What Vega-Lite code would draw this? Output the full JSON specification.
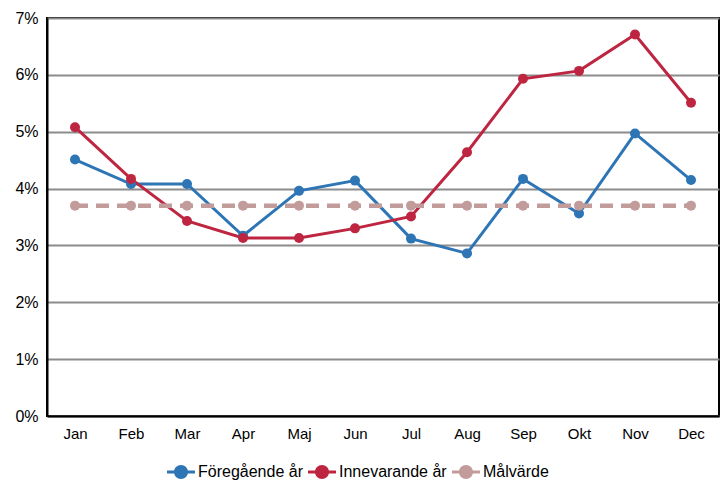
{
  "$schema": "https://vega.github.io/schema/vega-lite/v6.json",
  "width": 672,
  "height": 398,
  "autosize": {"type": "none"},
  "padding": {"left": 47, "top": 18, "right": 5, "bottom": 78},
  "background": "white",
  "config": {"font": "Liberation Sans", "view": {"stroke": "#000000", "strokeWidth": 2}},
  "data": {
    "values": [
      {"month": "Jan", "series": "Föregående år", "value": 4.51},
      {"month": "Feb", "series": "Föregående år", "value": 4.08},
      {"month": "Mar", "series": "Föregående år", "value": 4.08},
      {"month": "Apr", "series": "Föregående år", "value": 3.17},
      {"month": "Maj", "series": "Föregående år", "value": 3.96},
      {"month": "Jun", "series": "Föregående år", "value": 4.14},
      {"month": "Jul", "series": "Föregående år", "value": 3.12},
      {"month": "Aug", "series": "Föregående år", "value": 2.86},
      {"month": "Sep", "series": "Föregående år", "value": 4.17},
      {"month": "Okt", "series": "Föregående år", "value": 3.56},
      {"month": "Nov", "series": "Föregående år", "value": 4.97},
      {"month": "Dec", "series": "Föregående år", "value": 4.15},
      {"month": "Jan", "series": "Innevarande år", "value": 5.08},
      {"month": "Feb", "series": "Innevarande år", "value": 4.17},
      {"month": "Mar", "series": "Innevarande år", "value": 3.43},
      {"month": "Apr", "series": "Innevarande år", "value": 3.13},
      {"month": "Maj", "series": "Innevarande år", "value": 3.13},
      {"month": "Jun", "series": "Innevarande år", "value": 3.3},
      {"month": "Jul", "series": "Innevarande år", "value": 3.51},
      {"month": "Aug", "series": "Innevarande år", "value": 4.64},
      {"month": "Sep", "series": "Innevarande år", "value": 5.93},
      {"month": "Okt", "series": "Innevarande år", "value": 6.07},
      {"month": "Nov", "series": "Innevarande år", "value": 6.71},
      {"month": "Dec", "series": "Innevarande år", "value": 5.51},
      {"month": "Jan", "series": "Målvärde", "value": 3.7},
      {"month": "Feb", "series": "Målvärde", "value": 3.7},
      {"month": "Mar", "series": "Målvärde", "value": 3.7},
      {"month": "Apr", "series": "Målvärde", "value": 3.7},
      {"month": "Maj", "series": "Målvärde", "value": 3.7},
      {"month": "Jun", "series": "Målvärde", "value": 3.7},
      {"month": "Jul", "series": "Målvärde", "value": 3.7},
      {"month": "Aug", "series": "Målvärde", "value": 3.7},
      {"month": "Sep", "series": "Målvärde", "value": 3.7},
      {"month": "Okt", "series": "Målvärde", "value": 3.7},
      {"month": "Nov", "series": "Målvärde", "value": 3.7},
      {"month": "Dec", "series": "Målvärde", "value": 3.7}
    ]
  },
  "encoding": {
    "x": {
      "field": "month",
      "type": "ordinal",
      "sort": ["Jan", "Feb", "Mar", "Apr", "Maj", "Jun", "Jul", "Aug", "Sep", "Okt", "Nov", "Dec"],
      "scale": {"type": "point", "padding": 0.5},
      "axis": {
        "title": null,
        "labelAngle": 0,
        "labelFontSize": 15,
        "labelColor": "#000000",
        "labelPadding": 10,
        "ticks": false,
        "domainColor": "#000000",
        "domainWidth": 2,
        "grid": false
      }
    },
    "y": {
      "field": "value",
      "type": "quantitative",
      "scale": {"domain": [0, 7], "nice": false},
      "axis": {
        "title": null,
        "values": [0, 1, 2, 3, 4, 5, 6, 7],
        "labelExpr": "datum.value + '%'",
        "labelFontSize": 16,
        "labelColor": "#000000",
        "labelPadding": 9,
        "ticks": false,
        "domainColor": "#000000",
        "domainWidth": 2,
        "grid": true,
        "gridColor": "#8c8c8c",
        "gridWidth": 2
      }
    },
    "color": {
      "field": "series",
      "type": "nominal",
      "sort": ["Föregående år", "Innevarande år", "Målvärde"],
      "scale": {
        "domain": ["Föregående år", "Innevarande år", "Målvärde"],
        "range": ["#2e75b6", "#be2540", "#c19c9b"]
      },
      "legend": {
        "title": null,
        "orient": "none",
        "direction": "horizontal",
        "legendX": 120,
        "legendY": 440,
        "labelFontSize": 16,
        "labelColor": "#000000",
        "symbolType": "M-1,-0.11L1,-0.11L1,0.11L-1,0.11Z M-0.5,0A0.5,0.5 0 1,1 0.5,0A0.5,0.5 0 1,1 -0.5,0Z",
        "symbolSize": 784,
        "symbolStrokeWidth": 0,
        "columnPadding": 5,
        "labelOffset": 3,
        "encode": {
          "symbols": {
            "update": {
              "fill": {"scale": "color", "field": "value"},
              "stroke": {"value": "transparent"},
              "size": {"value": 784},
              "opacity": {"value": 1}
            }
          }
        }
      }
    }
  },
  "layer": [
    {
      "transform": [{"filter": "datum.series != 'Målvärde'"}],
      "mark": {"type": "line", "strokeWidth": 3}
    },
    {
      "transform": [{"filter": "datum.series == 'Målvärde'"}],
      "mark": {"type": "line", "strokeWidth": 4.5, "strokeDash": [13, 8]}
    },
    {
      "mark": {"type": "point", "filled": true, "size": 100, "opacity": 1}
    }
  ]
}
